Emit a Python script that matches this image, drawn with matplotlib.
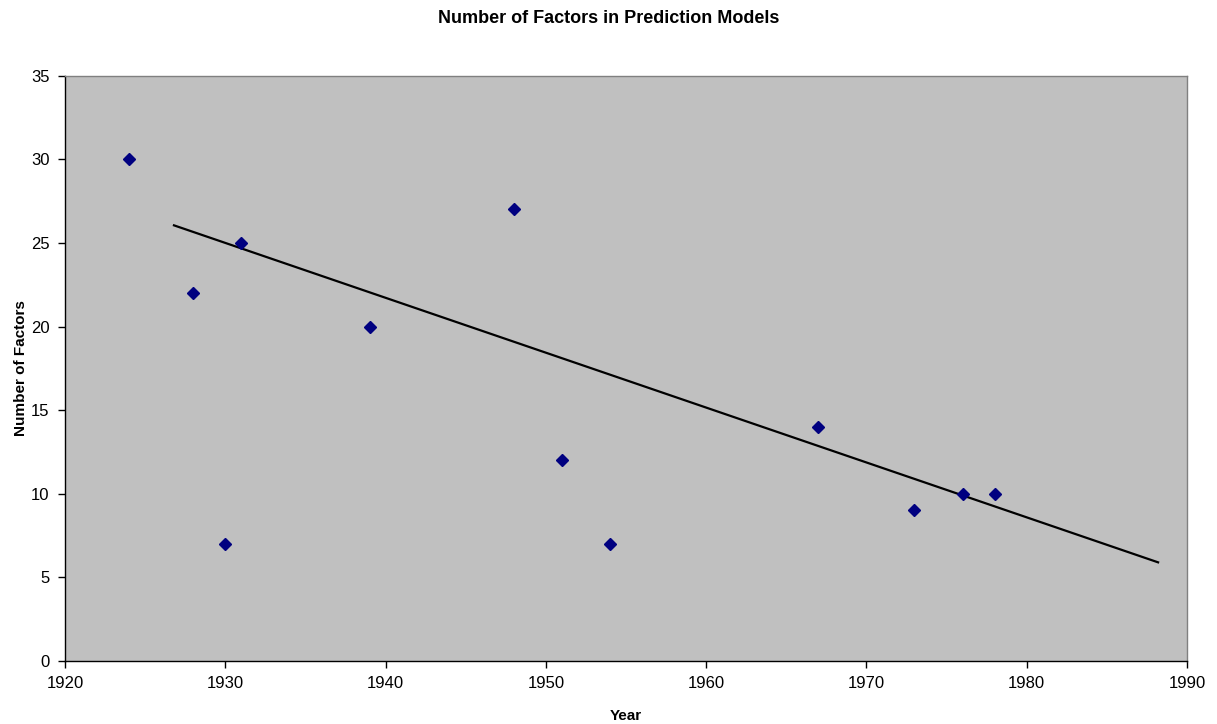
import matplotlib.pyplot as plt

# data
years = [1924, 1928, 1930, 1931, 1939, 1948, 1951, 1954, 1967, 1973, 1976, 1978]
factors = [30, 22, 7, 25, 20, 27, 12, 7, 14, 9, 10, 10]

# trend line end points
trend_x = [1926.8, 1988.2]
trend_y = [26.05, 5.9]

x_ticks = [1920, 1930, 1940, 1950, 1960, 1970, 1980, 1990]
y_ticks = [0, 5, 10, 15, 20, 25, 30, 35]

plt.rcParams['font.family'] = ['Liberation Sans', 'DejaVu Sans']

fig = plt.figure(figsize=(12.17, 7.24), dpi=100)
ax = fig.add_axes([0.0534, 0.087, 0.9219, 0.8085])
ax.set_facecolor('#C0C0C0')

ax.plot(trend_x, trend_y, color='black', linewidth=1.6, zorder=2)
ax.plot(years, factors, linestyle='none', marker='D', markersize=6.5,
        color='#000080', zorder=3)

ax.set_xlim(1920, 1990)
ax.set_ylim(0, 35)
ax.set_xticks(x_ticks)
ax.set_yticks(y_ticks)
ax.tick_params(direction='out', length=5, width=1, labelsize=12, pad=6)

for side in ['top', 'right']:
    ax.spines[side].set_color('#808080')
    ax.spines[side].set_linewidth(1)
for side in ['left', 'bottom']:
    ax.spines[side].set_color('black')
    ax.spines[side].set_linewidth(1)

ax.set_xlabel('Year', fontsize=11, fontweight='bold', labelpad=13)
ax.set_ylabel('Number of Factors', fontsize=11, fontweight='bold', labelpad=2)
fig.text(0.5, 0.975, 'Number of Factors in Prediction Models', fontsize=13,
         fontweight='bold', ha='center', va='center')

fig.savefig('out.png', dpi=100)
